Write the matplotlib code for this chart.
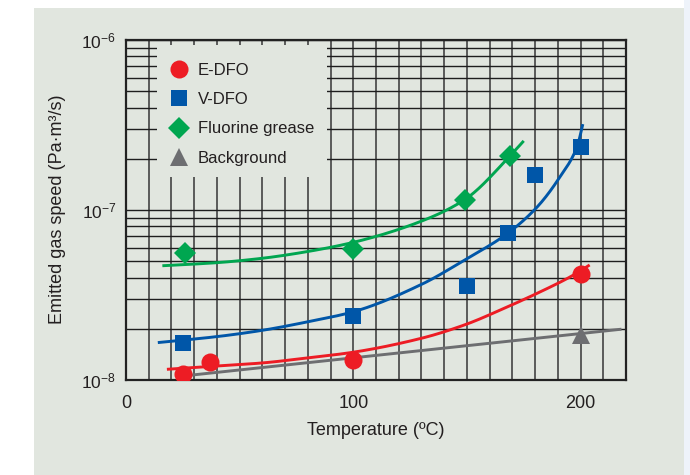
import matplotlib
matplotlib.use("Agg")
import matplotlib.pyplot as plt
import numpy as np
from matplotlib.patches import Rectangle
from matplotlib.lines import Line2D
from matplotlib.ticker import LogLocator, NullFormatter

# Measured outgassing rates (Pa·m³/s) versus temperature (°C)
edfo_t = [25, 37, 100, 200]
edfo_q = [1.085e-8, 1.28e-8, 1.31e-8, 4.2e-8]

vdfo_t = [25, 100, 150, 168, 180, 200]
vdfo_q = [1.66e-8, 2.38e-8, 3.57e-8, 7.3e-8, 1.61e-7, 2.36e-7]

grease_t = [26, 100, 149, 169]
grease_q = [5.56e-8, 5.87e-8, 1.15e-7, 2.08e-7]

bg_t = [200]
bg_q = [1.83e-8]

# Trend curves drawn through each series
edfo_fit_t = [18, 40, 60, 80, 99, 130, 149, 168, 181, 197, 204]
edfo_fit_q = [1.156e-8, 1.21e-8, 1.26e-8, 1.35e-8, 1.45e-8, 1.76e-8,
              2.11e-8, 2.7e-8, 3.24e-8, 4.15e-8, 4.75e-8]

vdfo_fit_t = [14, 40, 60, 80, 100, 130, 149, 168, 181, 191, 198.5, 201]
vdfo_fit_q = [1.66e-8, 1.8e-8, 1.96e-8, 2.2e-8, 2.52e-8, 3.65e-8,
              5.08e-8, 7.3e-8, 1.045e-7, 1.57e-7, 2.36e-7, 3.2e-7]

grease_fit_t = [16, 40, 60, 80, 100, 130, 149, 169, 175]
grease_fit_q = [4.7e-8, 4.9e-8, 5.2e-8, 5.7e-8, 6.45e-8, 8.6e-8,
                1.15e-7, 2.08e-7, 2.55e-7]

bg_fit_t = [28, 218]
bg_fit_q = [1.066e-8, 1.99e-8]

labels = ["E-DFO", "V-DFO", "Fluorine grease", "Background"]
x_ticks = [0, 100, 200]
y_ticks = [1e-8, 1e-7, 1e-6]
y_tick_labels = [r"$10^{-8}$", r"$10^{-7}$", r"$10^{-6}$"]

RED = "#ed1c24"
BLUE = "#0056a8"
GREEN = "#00a650"
GRAY = "#6d6e71"
BG = "#e1e6df"
INK = "#231f20"

plt.rcParams["font.family"] = ["Liberation Sans", "DejaVu Sans"]
plt.rcParams["mathtext.fontset"] = "custom"
plt.rcParams["mathtext.rm"] = "Liberation Sans"
plt.rcParams["mathtext.default"] = "regular"


def smooth(t, q, n=300):
    """Monotone cubic (PCHIP) curve through (t, q) in log space."""
    x = np.asarray(t, float)
    y = np.log10(q)
    if len(x) == 2:
        xx = np.linspace(x[0], x[1], n)
        return xx, 10 ** np.interp(xx, x, y)
    h = np.diff(x)
    d = np.diff(y) / h
    m = np.zeros_like(y)
    m[0], m[-1] = d[0], d[-1]
    for k in range(1, len(x) - 1):
        if d[k - 1] * d[k] > 0:
            w1 = 2 * h[k] + h[k - 1]
            w2 = h[k] + 2 * h[k - 1]
            m[k] = (w1 + w2) / (w1 / d[k - 1] + w2 / d[k])
    xx = np.linspace(x[0], x[-1], n)
    i = np.clip(np.searchsorted(x, xx) - 1, 0, len(x) - 2)
    s = (xx - x[i]) / h[i]
    h00 = 2 * s**3 - 3 * s**2 + 1
    h10 = s**3 - 2 * s**2 + s
    h01 = -2 * s**3 + 3 * s**2
    h11 = s**3 - s**2
    yy = h00 * y[i] + h10 * h[i] * m[i] + h01 * y[i + 1] + h11 * h[i] * m[i + 1]
    return xx, 10 ** yy


fig = plt.figure(figsize=(6.9, 4.75), dpi=100)
fig.patch.set_facecolor("white")
fig.patches.append(Rectangle((34 / 690, 0), (684 - 34) / 690, (475 - 8) / 475,
                             transform=fig.transFigure, facecolor=BG,
                             edgecolor="none", zorder=-10))
fig.patches.append(Rectangle((684 / 690, 0), 6 / 690, 1,
                             transform=fig.transFigure, facecolor="#eef3fa",
                             edgecolor="none", zorder=-10))

ax = fig.add_axes([126 / 690, 95 / 475, 500 / 690, 340 / 475])
ax.set_facecolor(BG)
ax.set_yscale("log")
ax.set_xlim(0, 220)
ax.set_ylim(1e-8, 1e-6)

ax.set_xticks(x_ticks)
ax.set_xticklabels([str(v) for v in x_ticks])
ax.set_xticks(np.arange(0, 221, 10), minor=True)
ax.set_yticks(y_ticks)
ax.set_yticklabels(y_tick_labels)
ax.yaxis.set_minor_locator(LogLocator(base=10, subs=np.arange(2, 10)))
ax.yaxis.set_minor_formatter(NullFormatter())

ax.tick_params(which="both", length=0)
ax.tick_params(axis="x", labelsize=13, pad=11, colors=INK)
ax.tick_params(axis="y", labelsize=12.5, pad=7, colors=INK)

ax.set_axisbelow(True)
ax.xaxis.grid(True, which="both", color="#4a4a4a", lw=1.25)
ax.yaxis.grid(True, which="both", color="#1e1e1e", lw=1.0)
for s in ax.spines.values():
    s.set_color("#222222")
    s.set_linewidth(1.6)

# Legend area masks the grid
ax.add_patch(Rectangle((0.062, 0.597), 0.340, 0.388, transform=ax.transAxes,
                       facecolor=BG, edgecolor="none", zorder=1))

# Trend curves
for t, q, c in [(edfo_fit_t, edfo_fit_q, RED),
                (vdfo_fit_t, vdfo_fit_q, BLUE),
                (grease_fit_t, grease_fit_q, GREEN),
                (bg_fit_t, bg_fit_q, GRAY)]:
    tt, qq = smooth(t, q)
    ax.plot(tt, qq, color=c, lw=2.1, zorder=3, solid_capstyle="butt")

# Measured points
ax.plot(edfo_t, edfo_q, "o", color=RED, ms=13, mew=0, zorder=4)
ax.plot(vdfo_t, vdfo_q, "s", color=BLUE, ms=11.5, mew=0, zorder=4)
ax.plot(grease_t, grease_q, "D", color=GREEN, ms=11.5, mew=0, zorder=4)
ax.plot(bg_t, bg_q, "^", color=GRAY, ms=13, mew=0, zorder=4)

handles = [
    Line2D([], [], ls="none", marker="o", color=RED, ms=13, mew=0),
    Line2D([], [], ls="none", marker="s", color=BLUE, ms=11.5, mew=0),
    Line2D([], [], ls="none", marker="D", color=GREEN, ms=11.5, mew=0),
    Line2D([], [], ls="none", marker="^", color=GRAY, ms=13, mew=0),
]
leg = ax.legend(handles, labels, loc="upper left", bbox_to_anchor=(0.089, 0.933),
                frameon=False, fontsize=12, handlelength=1.0, handletextpad=0.62,
                labelspacing=0.86, borderpad=0, borderaxespad=0)
for txt in leg.get_texts():
    txt.set_color(INK)
leg.set_zorder(5)

ax.set_xlabel("Temperature (ºC)", fontsize=13, color=INK, labelpad=7)
fig.text(58 / 690, 1 - 209 / 475, "Emitted gas speed (Pa·m³/s)", rotation=90,
         ha="center", va="center", fontsize=13, color=INK)

fig.savefig("out.png", dpi=100, facecolor=fig.get_facecolor())
